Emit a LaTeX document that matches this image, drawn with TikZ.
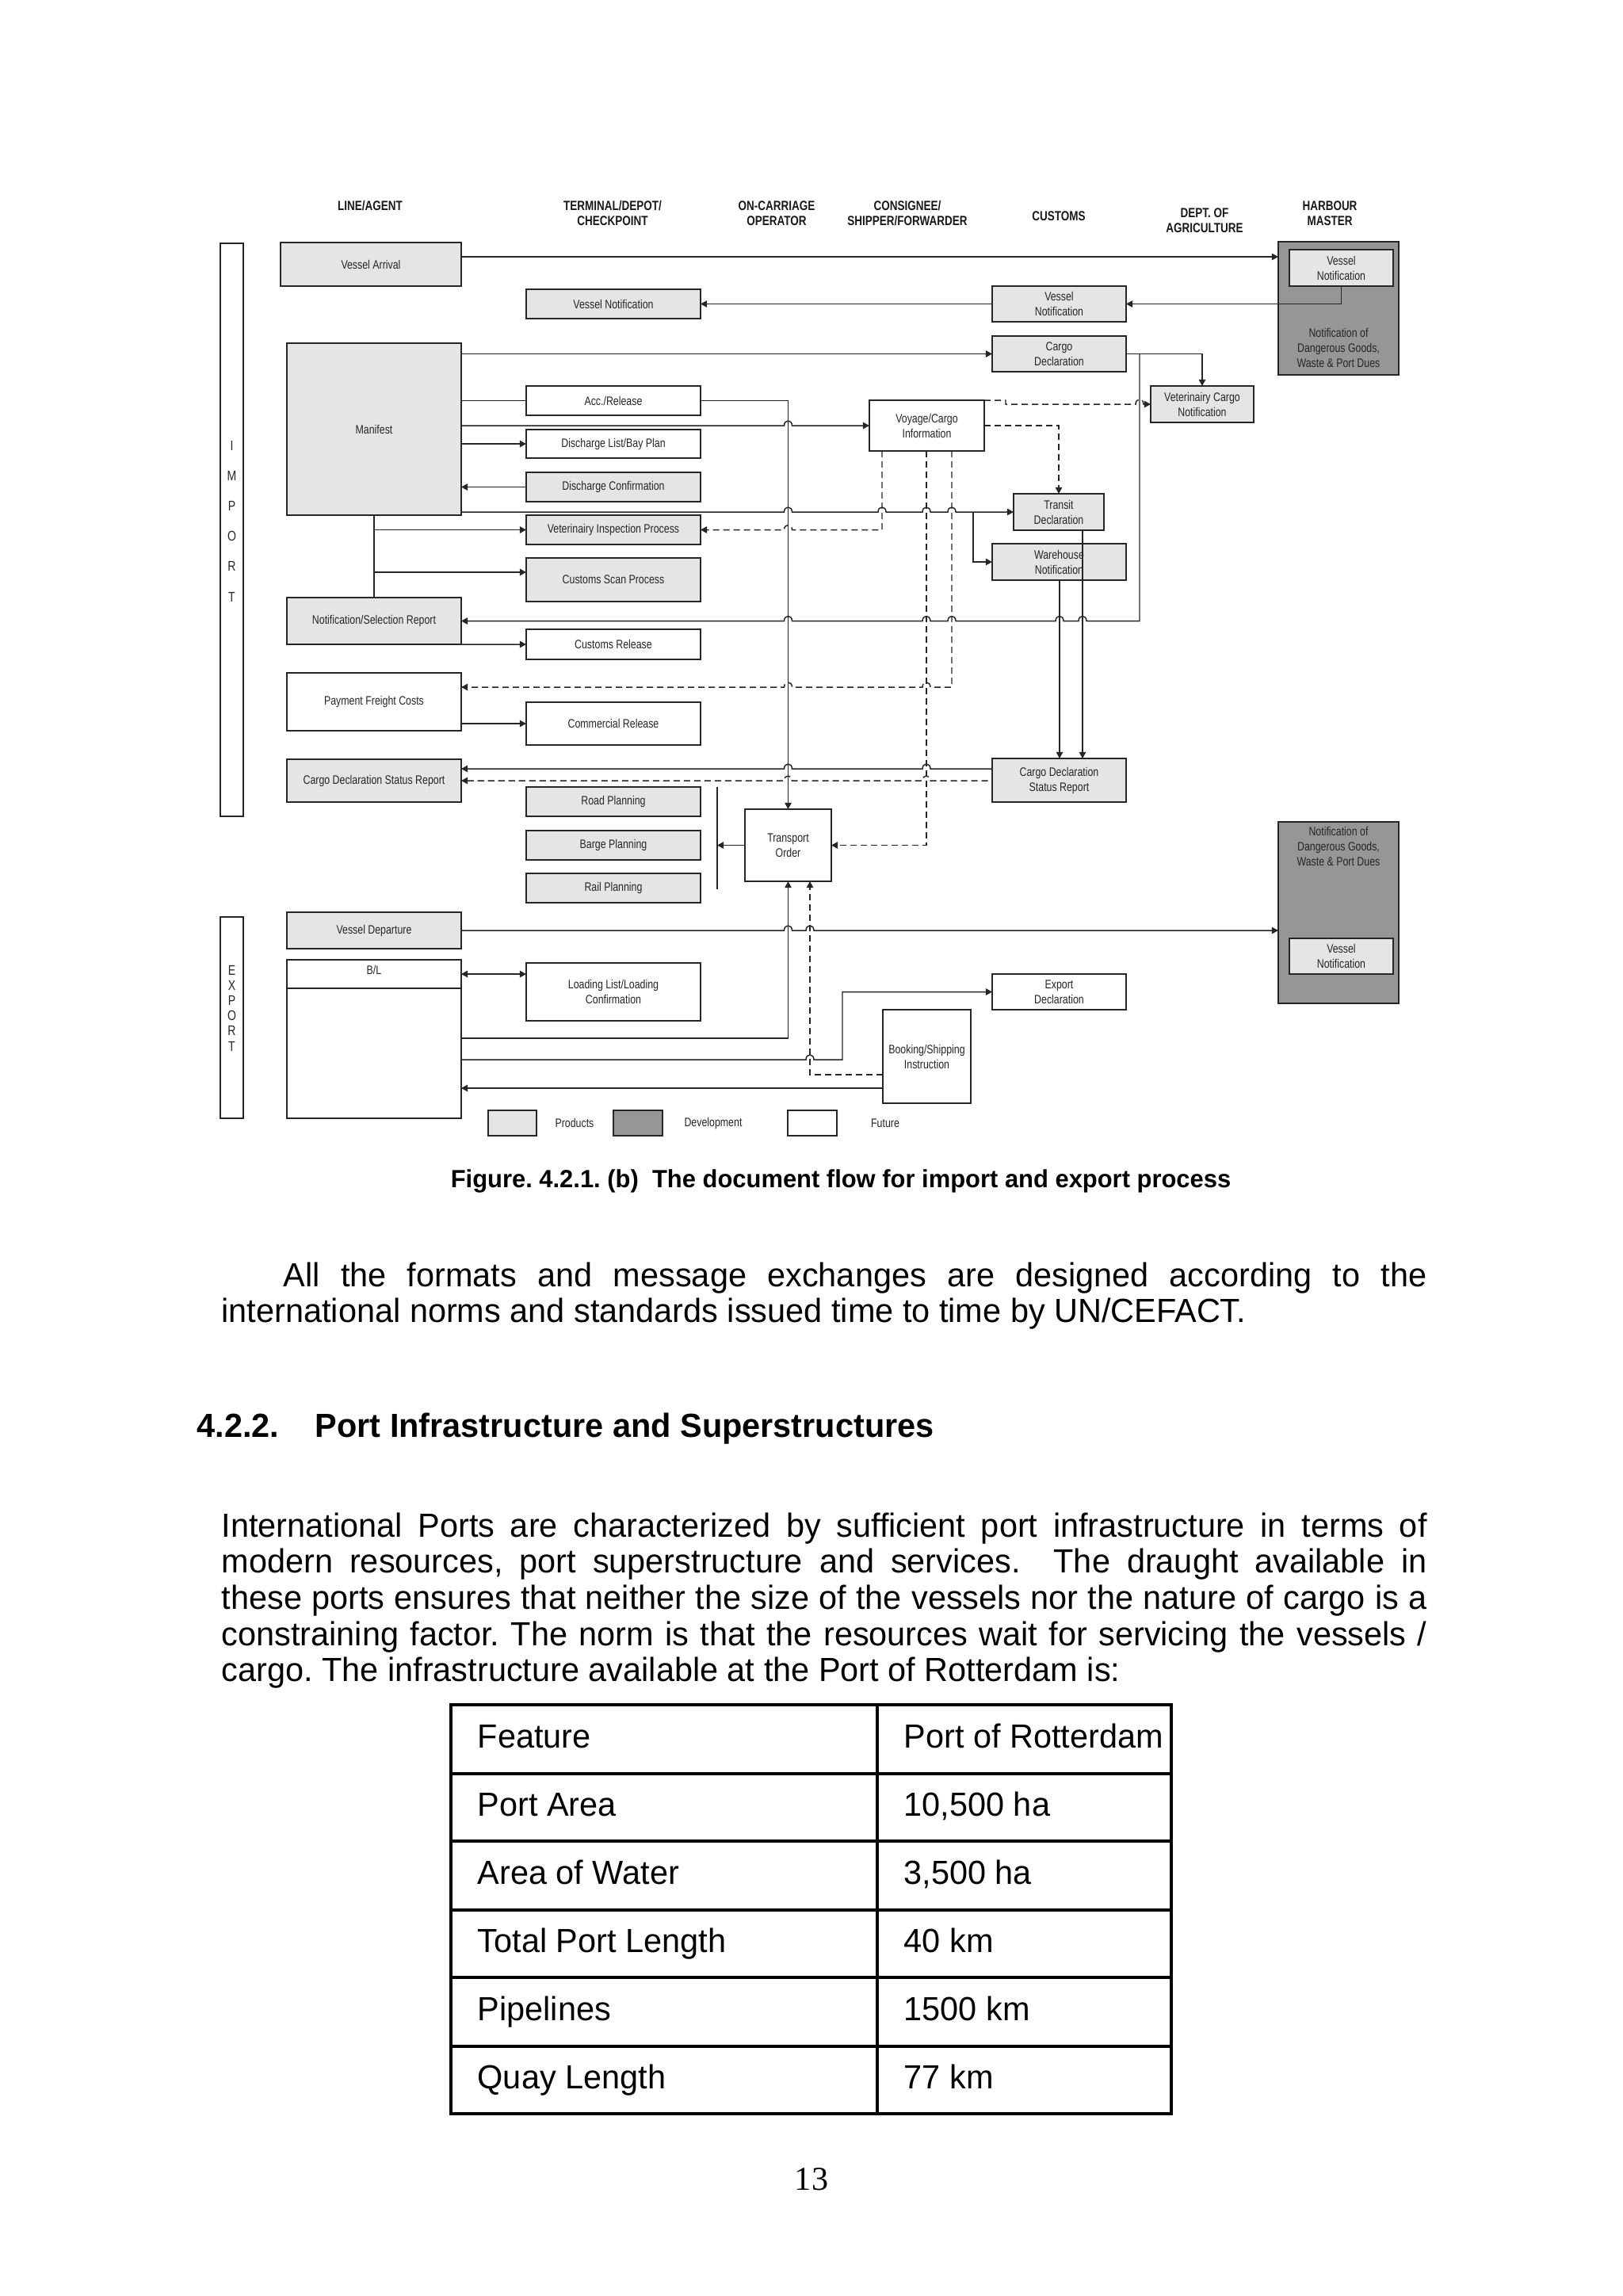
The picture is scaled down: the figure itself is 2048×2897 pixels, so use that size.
\documentclass[tikz,border=0pt]{standalone}
\usepackage{fontspec}
\setmainfont{Liberation Sans}[FakeStretch=0.983]
\newfontfamily\dgf[FakeStretch=0.8]{Liberation Sans}
\newfontfamily\pnserif{Liberation Serif}
\usetikzlibrary{arrows.meta}
\frenchspacing
\tikzset{
  box/.style={draw=black!85, line width=0.55pt, inner sep=0pt, outer sep=0pt, align=center,
    font=\dgf\fontsize{4.4}{5.4}\selectfont, text=black!85},
  prod/.style={box, fill=black!10},
  dev/.style={box, fill=black!41},
  fut/.style={box, fill=white},
  hdr/.style={font=\dgf\bfseries\fontsize{4.8}{5.4}\selectfont, align=center, inner sep=0pt, text=black!90},
  dtxt/.style={font=\dgf\fontsize{4.4}{5.4}\selectfont, align=center, inner sep=0pt, text=black!85},
  letter/.style={font=\dgf\fontsize{5}{5.5}\selectfont, inner sep=0pt, text=black!85},
  conn/.style={line width=0.42pt, draw=black!85},
  arr/.style={conn, -{Triangle[length=2.3pt,width=2.4pt]}},
  rarr/.style={conn, {Triangle[length=2.3pt,width=2.4pt]}-},
  dsh/.style={dash pattern=on 2.3pt off 1.4pt},
  body/.style={font=\fontsize{12}{13}\selectfont, inner sep=0pt},
  cell/.style={font=\fontsize{12}{13}\selectfont, inner sep=0pt, anchor=west, text height=8.6pt, text depth=2.5pt},
}
\newcommand\bx[7]{\node[#6, minimum width={(#4-#2)*0.1mm}, minimum height={(#5-#3)*0.1mm}] (#1) at ({(#2+#4)/2},{(#3+#5)/2}) {#7};}
\begin{document}
\begin{tikzpicture}[x=0.1mm,y=-0.1mm]
\useasboundingbox[fill=white] (0,0) rectangle (2048,2897);

% ---------- headers ----------
\node[hdr] (hLA) at (467,260) {LINE/AGENT};
\node[hdr] (hTD) at (773,269) {TERMINAL/DEPOT/\\CHECKPOINT};
\node[hdr] (hOC) at (980,269) {ON-CARRIAGE\\OPERATOR};
\node[hdr] (hCS) at (1145,269) {CONSIGNEE/\\SHIPPER/FORWARDER};
\node[hdr] (hCU) at (1336,273) {CUSTOMS};
\node[hdr] (hDA) at (1520,278) {DEPT. OF\\AGRICULTURE};
\node[hdr] (hHM) at (1678,269) {HARBOUR\\MASTER};

% ---------- import / export bars ----------
\bx{imp}{278}{307}{307}{1030}{fut}{}
\foreach \l [count=\k] in {I,M,P,O,R,T} \node[letter] (impL\k) at (292.5,{562+38.2*(\k-1)}) {\l};
\bx{exp}{278}{1157}{307}{1411}{fut}{}
\foreach \l [count=\k] in {E,X,P,O,R,T} \node[letter] (expL\k) at (292.5,{1224+19.2*(\k-1)}) {\l};

% ---------- line/agent column ----------
\bx{va}{354}{306}{582}{361}{prod}{Vessel Arrival}
\bx{man}{362}{433}{582}{650}{prod}{Manifest}
\bx{nsr}{362}{754}{582}{813}{prod}{Notification/Selection Report}
\bx{pfc}{362}{849}{582}{922}{fut}{Payment Freight Costs}
\bx{cdsL}{362}{958}{582}{1012}{prod}{Cargo Declaration Status Report}
\bx{vd}{362}{1151}{582}{1197}{prod}{Vessel Departure}
\bx{bl}{362}{1211}{582}{1411}{fut}{}
\draw[line width=0.55pt, draw=black!85] (bl.west |- 0,1247) -- (bl.east |- 0,1247);
\node[dtxt] (blt) at (472,1224) {B/L};

% ---------- terminal column ----------
\bx{tvn}{664}{365}{884}{402}{prod}{Vessel Notification}
\bx{acc}{664}{487}{884}{524}{fut}{Acc./Release}
\bx{dlb}{664}{542}{884}{578}{fut}{Discharge List/Bay Plan}
\bx{dcf}{664}{596}{884}{633}{prod}{Discharge Confirmation}
\bx{vip}{664}{650}{884}{687}{prod}{Veterinairy Inspection Process}
\bx{csp}{664}{704}{884}{759}{prod}{Customs Scan Process}
\bx{crl}{664}{794}{884}{832}{fut}{Customs Release}
\bx{cmr}{664}{886}{884}{940}{fut}{Commercial Release}
\bx{road}{664}{993}{884}{1030}{prod}{Road Planning}
\bx{barge}{664}{1048}{884}{1085}{prod}{Barge Planning}
\bx{rail}{664}{1102}{884}{1139}{prod}{Rail Planning}
\bx{llc}{664}{1215}{884}{1288}{fut}{Loading List/Loading\\Confirmation}

% ---------- middle ----------
\bx{to}{940}{1021}{1049}{1112}{fut}{Transport\\Order}
\bx{vci}{1097}{505}{1242}{569}{fut}{Voyage/Cargo\\Information}
\bx{bsi}{1114}{1274}{1225}{1392}{fut}{Booking/Shipping\\Instruction}

% ---------- customs ----------
\bx{cvn}{1252}{361}{1421}{406}{prod}{Vessel\\Notification}
\bx{cd}{1252}{424}{1421}{469}{prod}{Cargo\\Declaration}
\bx{trd}{1279}{623}{1393}{669}{prod}{Transit\\Declaration}
\bx{whn}{1252}{686}{1421}{732}{prod}{Warehouse\\Notification}
\bx{cdsR}{1252}{957}{1421}{1012}{prod}{Cargo Declaration\\Status Report}
\bx{exd}{1252}{1229}{1421}{1274}{fut}{Export\\Declaration}
\bx{vcn}{1452}{487}{1582}{533}{prod}{Veterinairy Cargo\\Notification}

% ---------- harbour master ----------
\bx{hmI}{1613}{305}{1765}{473}{dev}{}
\bx{hvnI}{1627}{315}{1758}{361}{prod}{Vessel\\Notification}
\node[dtxt] (hmIt) at (1689,439) {Notification of\\Dangerous Goods,\\Waste \& Port Dues};
\bx{hmE}{1613}{1037}{1765}{1266}{dev}{}
\bx{hvnE}{1627}{1184}{1758}{1229}{prod}{Vessel\\Notification}
\node[dtxt] (hmEt) at (1689,1068) {Notification of\\Dangerous Goods,\\Waste \& Port Dues};

% ---------- legend ----------
\bx{lgP}{616}{1401}{677}{1433}{prod}{}
\node[dtxt] (lgPt) at (725,1417) {Products};
\bx{lgD}{774}{1401}{836}{1433}{dev}{}
\node[dtxt] (lgDt) at (900,1417) {Development};
\bx{lgF}{994}{1401}{1056}{1433}{fut}{}
\node[dtxt] (lgFt) at (1117,1417) {Future};

% ---------- connectors ----------
\draw[arr] (va.east |- 0,324) -- (hmI.west |- 0,324);
\draw[arr] (hvnI.south) |- (cvn.east);
\draw[arr] (cvn.west) -- (tvn.east);
\draw[arr] (man.east |- cd.west) -- (cd.west);
\draw[arr] (cd.east) -| (vcn.north);
\draw[rarr] (nsr.east) foreach \j in {994.5,1169,1201,1337,1366} { -- (\j-5,783.5) .. controls (\j-5,775.5) and (\j+5,775.5) .. (\j+5,783.5) } -- (1438,783.5) -- (1438,446.5);
\draw[conn] (man.east |- acc.west) -- (acc.west);
\draw[arr] (acc.east) -| (to.north);
\draw[arr] (man.east |- vci.west) foreach \j in {994.5} { -- (\j-5,537) .. controls (\j-5,529) and (\j+5,529) .. (\j+5,537) } -- (vci.west);
\draw[arr] (man.east |- dlb.west) -- (dlb.west);
\draw[rarr] (man.east |- dcf.west) -- (dcf.west);
\draw[arr] (man.east |- trd.west) foreach \j in {994.5,1113,1169,1201} { -- (\j-5,646) .. controls (\j-5,638) and (\j+5,638) .. (\j+5,646) } -- (trd.west);
\draw[arr] (1228,646) |- (whn.west);
\draw[conn] (man.south) -- (nsr.north);
\draw[arr] (man.south |- vip.west) -- (vip.west);
\draw[arr] (man.south |- 0,722) -- (csp.west |- 0,722);
\draw[arr] (nsr.south east) -- (crl.west);
\draw[arr] (pfc.east |- cmr.west) -- (cmr.west);
\draw[arr,dsh] (vci.north east) -- (1269,505) -- (1269,510) foreach \j in {1438} { -- (\j-5,510) .. controls (\j-5,502) and (\j+5,502) .. (\j+5,510) } -- (vcn.west |- 0,510);
\draw[arr,dsh] (vci.east) -| (trd.north);
\draw[arr,dsh] (vci.south -| 1113,0) -- (1113,668.5) -- (999.5,668.5) .. controls (999.5,660.5) and (989.5,660.5) .. (989.5,668.5) -- (vip.east);
\draw[arr,dsh] (vci.south -| 1201,0) -- (1201,867) -- (1174,867) .. controls (1174,859) and (1164,859) .. (1164,867) -- (999.5,867) .. controls (999.5,859) and (989.5,859) .. (989.5,867) -- (pfc.east |- 0,867);
\draw[arr,dsh] (vci.south -| 1169,0) |- (to.east);
\draw[arr] (trd.south -| 1366,0) -- (cdsR.north -| 1366,0);
\draw[arr] (whn.south -| 1337,0) -- (cdsR.north -| 1337,0);
\draw[rarr] (cdsL.east |- 0,970) foreach \j in {994.5,1169} { -- (\j-5,970) .. controls (\j-5,962) and (\j+5,962) .. (\j+5,970) } -- (cdsR.west |- 0,970);
\draw[rarr,dsh] (cdsL.east |- 0,985) foreach \j in {994.5,1169} { -- (\j-5,985) .. controls (\j-5,977) and (\j+5,977) .. (\j+5,985) } -- (cdsR.west |- 0,985);
\draw[arr] (to.west) -- (905,1066.5);
\draw[conn] (905,993) -- (905,1122);
\draw[arr] (vd.east |- 0,1174) foreach \j in {994.5,1022} { -- (\j-5,1174) .. controls (\j-5,1166) and (\j+5,1166) .. (\j+5,1174) } -- (hmE.west |- 0,1174);
\draw[conn, {Triangle[length=2.3pt,width=2.4pt]}-{Triangle[length=2.3pt,width=2.4pt]}] (bl.east |- 0,1229) -- (llc.west |- 0,1229);
\draw[arr] (bl.east |- 0,1310) -| (to.south);
\draw[arr] (bl.east |- 0,1337) foreach \j in {1022} { -- (\j-5,1337) .. controls (\j-5,1329) and (\j+5,1329) .. (\j+5,1337) } -- (1063,1337) |- (exd.west);
\draw[arr,dsh] (bsi.west |- 0,1356) -| (to.south -| 1022,0);
\draw[arr] (bsi.west |- 0,1373) -- (bl.east |- 0,1373);

% ---------- page text ----------
\node[font=\bfseries\fontsize{8.95}{10}\selectfont, inner sep=0pt] (cap) at (1061,1490) {Figure. 4.2.1. (b)\ \ The document flow for import and export process};

\node[body, anchor=base west, text width=152.1mm, align=justify] (p1) at (279,1623)
{\hspace*{7.8mm}All the formats and message exchanges are designed according to the\linebreak international norms and standards issued time to time by UN/CEFACT.};

\node[body, font=\bfseries\fontsize{12}{13}\selectfont, anchor=base west] (hnum) at (248,1813) {4.2.2.};
\node[body, font=\bfseries\fontsize{12}{13}\selectfont, anchor=base west] (htit) at (397,1813) {Port Infrastructure and Superstructures};

\node[body, anchor=base west, text width=152.1mm, align=justify] (p2) at (279,1939)
{International Ports are characterized by sufficient port infrastructure in terms of\linebreak
modern resources, port superstructure and services.\ \ The draught available in\linebreak
these ports ensures that neither the size of the vessels nor the nature of cargo is a\linebreak
constraining factor. The norm is that the resources wait for servicing the vessels /\linebreak
cargo. The infrastructure available at the Port of Rotterdam is:};

% ---------- table ----------
\draw[line width=1.1pt] (569,2151) rectangle (1478,2667);
\draw[line width=1.1pt] (1107,2151) -- (1107,2667);
\foreach \yy in {2238,2323,2410,2495,2582} \draw[line width=1.1pt] (569,\yy) -- (1478,\yy);
\node[cell] (t11) at (602,2194.5) {Feature};
\node[cell] (t12) at (1140,2194.5) {Port of Rotterdam};
\node[cell] (t21) at (602,2280.5) {Port Area};
\node[cell] (t22) at (1140,2280.5) {10,500 ha};
\node[cell] (t31) at (602,2366.5) {Area of Water};
\node[cell] (t32) at (1140,2366.5) {3,500 ha};
\node[cell] (t41) at (602,2452.5) {Total Port Length};
\node[cell] (t42) at (1140,2452.5) {40 km};
\node[cell] (t51) at (602,2538.5) {Pipelines};
\node[cell] (t52) at (1140,2538.5) {1500 km};
\node[cell] (t61) at (602,2624.5) {Quay Length};
\node[cell] (t62) at (1140,2624.5) {77 km};

\node[font=\pnserif\fontsize{12}{13}\selectfont, inner sep=0pt] (pg) at (1024,2750) {13};
\end{tikzpicture}
\end{document}
